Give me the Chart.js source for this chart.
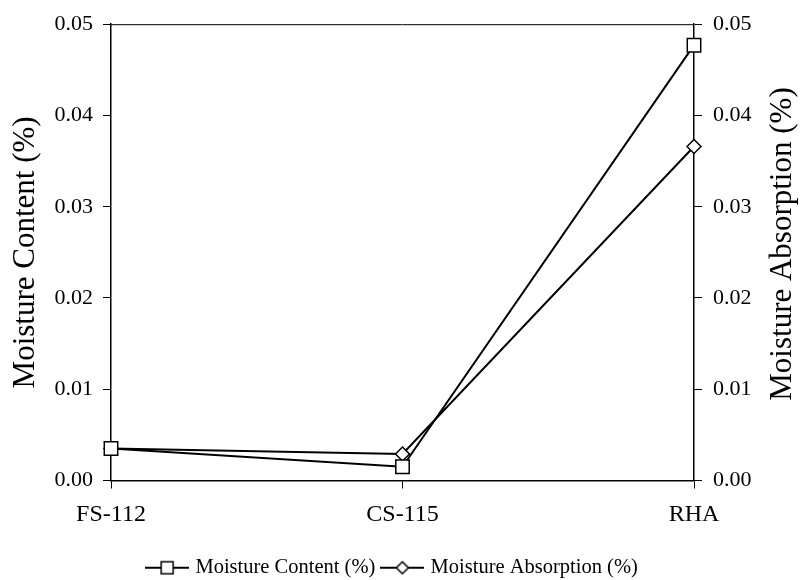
<!DOCTYPE html>
<html>
<head>
<meta charset="utf-8">
<script src="https://cdn.jsdelivr.net/npm/chart.js@4.4.0/dist/chart.umd.min.js"></script>
<style>
  html, body { margin: 0; padding: 0; background: #fff; }
  #wrap { width: 801px; height: 580px; }
</style>
</head>
<body>
<div id="wrap"><canvas id="chart" width="801" height="580"></canvas></div>
<script>
    "use strict";

    // data
    var categories = ['FS-112', 'CS-115', 'RHA'];
    var moistureContent = [0.0035, 0.0015, 0.0477];
    var moistureAbsorption = [0.0035, 0.0029, 0.0366];
    var axisTicks = [0, 0.01, 0.02, 0.03, 0.04, 0.05];

    var serif = "'Liberation Serif', 'Times New Roman', serif";

    // legend swatch: line with hollow marker
    function swatch(kind) {
        var c = document.createElement('canvas');
        c.width = 44; c.height = 16;
        var g = c.getContext('2d');
        g.strokeStyle = '#000'; g.lineWidth = 2;
        g.beginPath(); g.moveTo(0, 8); g.lineTo(44, 8); g.stroke();
        g.fillStyle = '#fff'; g.lineWidth = 1.5;
        g.beginPath();
        if (kind === 'rect') {
            g.rect(16, 2, 12, 12);
        } else {
            g.moveTo(22, 2); g.lineTo(28, 8); g.lineTo(22, 14); g.lineTo(16, 8); g.closePath();
        }
        g.fill(); g.stroke();
        return c;
    }

    // frame top line, right title reading bottom-to-top, legend nudge
    var extras = {
        id: 'extras',
        afterLayout: function (chart) {
            var lg = chart.legend;
            if (lg) {
                lg.left -= 7; lg.right -= 7;
                lg.top += 10; lg.bottom += 10;
            }
        },
        afterDraw: function (chart) {
            var ctx = chart.ctx, a = chart.chartArea;
            ctx.save();
            ctx.strokeStyle = '#000'; ctx.lineWidth = 1;
            ctx.beginPath(); ctx.moveTo(a.left, a.top + 0.5); ctx.lineTo(a.right, a.top + 0.5); ctx.stroke();
            ctx.fillStyle = '#000';
            ctx.font = "31px " + serif;
            ctx.textAlign = 'center'; ctx.textBaseline = 'middle';
            ctx.translate(783, 244);
            ctx.rotate(-Math.PI / 2);
            ctx.fillText('Moisture Absorption (%)', 0, 0);
            ctx.restore();
        }
    };

    function tickOpts(pad) {
        return {
            color: '#000',
            font: { family: serif, size: 22 },
            padding: pad,
            callback: function (v) { return v.toFixed(2); }
        };
    }

    var ctx = document.getElementById('chart').getContext('2d');
    var chart = new Chart(ctx, {
        type: 'line',
        data: {
            labels: categories,
            datasets: [{
                label: 'Moisture Content (%)',
                data: moistureContent,
                borderColor: '#000',
                borderWidth: 2,
                backgroundColor: '#fff',
                pointStyle: 'rect',
                pointRadius: 9.5,
                pointBorderWidth: 1.5,
                pointBackgroundColor: '#fff',
                pointBorderColor: '#000',
                yAxisID: 'y'
            }, {
                label: 'Moisture Absorption (%)',
                data: moistureAbsorption,
                borderColor: '#000',
                borderWidth: 2,
                backgroundColor: '#fff',
                pointStyle: 'rectRot',
                pointRadius: 7,
                pointBorderWidth: 1.5,
                pointBackgroundColor: '#fff',
                pointBorderColor: '#000',
                yAxisID: 'y1'
            }]
        },
        options: {
            responsive: false,
            animation: false,
            layout: { padding: { top: 20, left: 0, right: 0, bottom: 2 } },
            plugins: {
                tooltip: { enabled: false },
                legend: {
                    position: 'bottom',
                    labels: {
                        color: '#000',
                        font: { family: serif, size: 20.5 },
                        usePointStyle: true,
                        pointStyleWidth: 36,
                        padding: 9,
                        generateLabels: function (ch) {
                            return ch.data.datasets.map(function (ds, i) {
                                return {
                                    text: ds.label,
                                    fontColor: '#000',
                                    pointStyle: swatch(i === 0 ? 'rect' : 'rotRect'),
                                    datasetIndex: i,
                                    lineWidth: 0,
                                    strokeStyle: 'transparent',
                                    fillStyle: 'transparent'
                                };
                            });
                        }
                    }
                }
            },
            scales: {
                x: {
                    type: 'category',
                    offset: false,
                    grid: { display: true, drawOnChartArea: false, tickLength: 8, color: '#000' },
                    border: { display: true, color: '#000', width: 1.5 },
                    ticks: { color: '#000', font: { family: serif, size: 24 }, padding: 12, maxRotation: 0, autoSkip: false },
                    afterFit: function (s) { s.height = 58; }
                },
                y: {
                    position: 'left',
                    min: 0, max: 0.05,
                    afterBuildTicks: function (s) { s.ticks = axisTicks.map(function (v) { return { value: v }; }); },
                    grid: { drawOnChartArea: false, tickLength: 8, color: '#000' },
                    border: { display: true, color: '#000', width: 1.5 },
                    ticks: tickOpts(10),
                    title: { display: true, text: 'Moisture Content (%)', color: '#000', font: { family: serif, size: 31 }, padding: { top: 7, bottom: 0 } },
                    afterFit: function (s) { s.width = 111; }
                },
                y1: {
                    position: 'right',
                    min: 0, max: 0.05,
                    afterBuildTicks: function (s) { s.ticks = axisTicks.map(function (v) { return { value: v }; }); },
                    grid: { drawOnChartArea: false, tickLength: 8, color: '#000' },
                    border: { display: true, color: '#000', width: 1.5 },
                    ticks: tickOpts(11),
                    afterFit: function (s) { s.width = 107; }
                }
            }
        },
        plugins: [extras]
    });
</script>
</body>
</html>
